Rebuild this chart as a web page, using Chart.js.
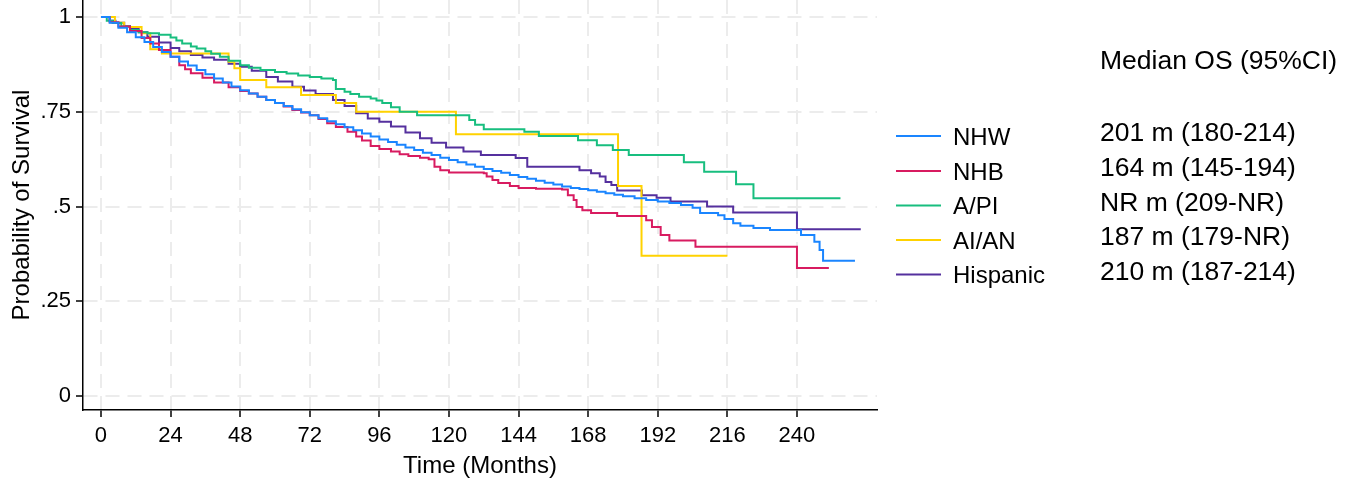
<!DOCTYPE html>
<html>
<head>
<meta charset="utf-8">
<script src="https://cdn.jsdelivr.net/npm/chart.js@4.4.1/dist/chart.umd.min.js"></script>
<style>
  html, body { margin: 0; padding: 0; background: #fff; }
  #wrap { width: 1359px; height: 486px; position: relative; }
</style>
</head>
<body>
<div id="wrap"><canvas id="chartKM" width="1359" height="486"></canvas></div>
<script>
// group names and median OS text
const groups = ["NHW", "NHB", "A/PI", "AI/AN", "Hispanic"];
const medianText = ["201 m (180-214)", "164 m (145-194)", "NR m (209-NR)", "187 m (179-NR)", "210 m (187-214)"];
const colors = ["#1a85ff", "#d81b60", "#18be7f", "#ffd200", "#55309e"];

const xTicks = [0, 24, 48, 72, 96, 120, 144, 168, 192, 216, 240];
const yTicks = [0, 0.25, 0.5, 0.75, 1];
const yTickLabels = ["0", ".25", ".5", ".75", "1"];

// Kaplan-Meier steps (months, survival)
const nhwTime = [0,3,6,9,12,15,18,21,24,27,30,33,36,39,42,45,48,51,54,57,60,63,66,69,72,75,78,81,84,87,90,93,96,99,102,105,108,111,114,117,120,123,126,129,132,135,138,141,144,147,150,153,156,159,162,165,168,171,174,177,180,184,188,192,196,200,204,206.6,212.8,215,218,220.5,225,230.7,241.4,246,247.8,249,260];
const nhwSurv = [1,0.985,0.972,0.96,0.947,0.934,0.921,0.908,0.895,0.883,0.872,0.86,0.849,0.838,0.827,0.817,0.807,0.798,0.79,0.781,0.773,0.765,0.757,0.749,0.741,0.733,0.725,0.717,0.709,0.701,0.693,0.685,0.677,0.67,0.663,0.656,0.649,0.642,0.636,0.629,0.623,0.617,0.611,0.605,0.599,0.594,0.589,0.583,0.578,0.573,0.568,0.563,0.558,0.553,0.549,0.546,0.543,0.539,0.535,0.531,0.527,0.522,0.517,0.513,0.509,0.504,0.497,0.483,0.477,0.467,0.456,0.449,0.443,0.438,0.425,0.407,0.385,0.357,0.357];

const nhbTime = [0,3,6,10,14,17,20,24,27,29,31,35,39,44,48,51,54,57,60,63,66,69,72,75,78,81,85,88,90,93,96,100,103,106,110,113,115,117,120,132,133,135,137,141,144,150,159,161,163,164,166,169,178,188,190,193,196,205,240,251];
const nhbSurv = [1,0.986,0.975,0.963,0.945,0.93,0.913,0.895,0.873,0.862,0.852,0.84,0.827,0.815,0.805,0.798,0.79,0.781,0.773,0.764,0.755,0.748,0.741,0.731,0.72,0.71,0.697,0.685,0.674,0.66,0.652,0.645,0.638,0.633,0.629,0.625,0.605,0.596,0.59,0.588,0.579,0.57,0.562,0.554,0.549,0.547,0.545,0.53,0.517,0.499,0.49,0.483,0.475,0.464,0.446,0.425,0.41,0.394,0.338,0.338];

const apiTime = [0,2,4,7,10,13,16,20,24,26,28,31,33,36,38,41,44,48,51,55,60,64,68,72,76,80,81,84,86,89,93,95,97,100,103,109,127,129,132,146,151,164.5,171,176.5,182,201,208,219,225,255];
const apiSurv = [1,0.99,0.984,0.975,0.966,0.96,0.957,0.953,0.946,0.938,0.93,0.922,0.917,0.91,0.903,0.895,0.885,0.873,0.866,0.86,0.855,0.851,0.846,0.842,0.838,0.834,0.81,0.803,0.797,0.79,0.785,0.78,0.773,0.762,0.75,0.741,0.728,0.716,0.704,0.697,0.686,0.675,0.662,0.649,0.636,0.617,0.592,0.559,0.522,0.522];

const aianTime = [0,4.8,8,14,17,21,44,46,48,57,69,81,88,122.4,178.3,186.4,216];
const aianSurv = [1,0.985,0.974,0.957,0.915,0.904,0.882,0.865,0.834,0.815,0.794,0.773,0.75,0.691,0.554,0.37,0.37];

const hispTime = [0,3,5,8,10,13,16,20,24,27,31,35,39,44,48,52,57,61,66,70,74,80,84,88,92,96,100,105,110,114,119,125,131,143,147,165,169,172,174,176,178,186.5,191.6,196.4,209,218,240,262];
const hispSurv = [1,0.99,0.985,0.976,0.97,0.96,0.948,0.933,0.918,0.91,0.9,0.893,0.887,0.877,0.869,0.858,0.842,0.83,0.816,0.806,0.797,0.781,0.765,0.746,0.732,0.724,0.711,0.695,0.68,0.668,0.656,0.645,0.636,0.628,0.605,0.596,0.588,0.579,0.565,0.557,0.542,0.53,0.523,0.513,0.5,0.484,0.44,0.44];

const series = [[nhwTime, nhwSurv], [nhbTime, nhbSurv], [apiTime, apiSurv], [aianTime, aianSurv], [hispTime, hispSurv]];

const FONT = "'Liberation Sans', Arial, sans-serif";

// legend + median OS column drawn beside the plot
const sideLegend = {
    id: "sideLegend",
    afterDraw(chart) {
        const ctx = chart.ctx;
        ctx.save();
        ctx.fillStyle = "#000";
        ctx.textBaseline = "middle";
        ctx.textAlign = "left";
        ctx.font = "26.5px " + FONT;
        ctx.fillText("Median OS (95%CI)", 1100, 62);
        const rows = [136, 171, 205.5, 240, 274.5];
        groups.forEach((g, i) => {
            const y = rows[i];
            ctx.strokeStyle = colors[i];
            ctx.lineWidth = 2;
            ctx.beginPath();
            ctx.moveTo(896, y);
            ctx.lineTo(941, y);
            ctx.stroke();
            ctx.fillStyle = "#000";
            ctx.font = "24px " + FONT;
            ctx.fillText(g, 953, y + 2);
            ctx.font = "26.5px " + FONT;
            ctx.fillText(medianText[i], 1100, y - 2);
        });
        ctx.restore();
    }
};

new Chart(document.getElementById("chartKM"), {
    type: "line",
    data: {
        datasets: series.map((s, i) => ({
            label: groups[i],
            data: s[0].map((t, j) => ({ x: t, y: s[1][j] })),
            borderColor: colors[i],
            borderWidth: 2,
            stepped: "before",
            pointRadius: 0,
            fill: false,
        }))
    },
    options: {
        responsive: false,
        animation: false,
        devicePixelRatio: 1,
        layout: { padding: { left: 0, top: 0, right: 482, bottom: 0 } },
        plugins: { legend: { display: false }, tooltip: { enabled: false } },
        scales: {
            x: {
                type: "linear",
                min: -6.2,
                max: 267.6,
                afterBuildTicks: (scale) => { scale.ticks = xTicks.map(v => ({ value: v })); },
                afterFit: (scale) => { scale.height = 76; scale.paddingLeft = 0; scale.paddingRight = 0; },
                ticks: { color: "#000", font: { size: 22, family: FONT }, padding: 6, maxRotation: 0 },
                grid: { color: "#ececec", lineWidth: 2, tickColor: "#000", tickLength: 7, tickWidth: 1.5 },
                border: { color: "#000", width: 1.5, dash: [14, 8] },
                title: { display: true, text: "Time (Months)", color: "#000", font: { size: 24, family: FONT }, padding: { top: 0, bottom: 5 } }
            },
            y: {
                min: -0.037,
                max: 1.045,
                afterBuildTicks: (scale) => { scale.ticks = yTicks.map(v => ({ value: v })); },
                afterFit: (scale) => { scale.width = 83; scale.paddingTop = 0; scale.paddingBottom = 0; },
                ticks: {
                    color: "#000", font: { size: 22, family: FONT }, padding: 5,
                    callback: (v) => yTickLabels[yTicks.indexOf(v)]
                },
                grid: { color: "#ececec", lineWidth: 2, tickColor: "#000", tickLength: 7, tickWidth: 1.5 },
                border: { color: "#000", width: 1.5, dash: [14, 8] },
                title: { display: true, text: "Probability of Survival", color: "#000", font: { size: 24, family: FONT }, padding: { top: 8, bottom: 0 } }
            }
        }
    },
    plugins: [sideLegend]
});
</script>
</body>
</html>
